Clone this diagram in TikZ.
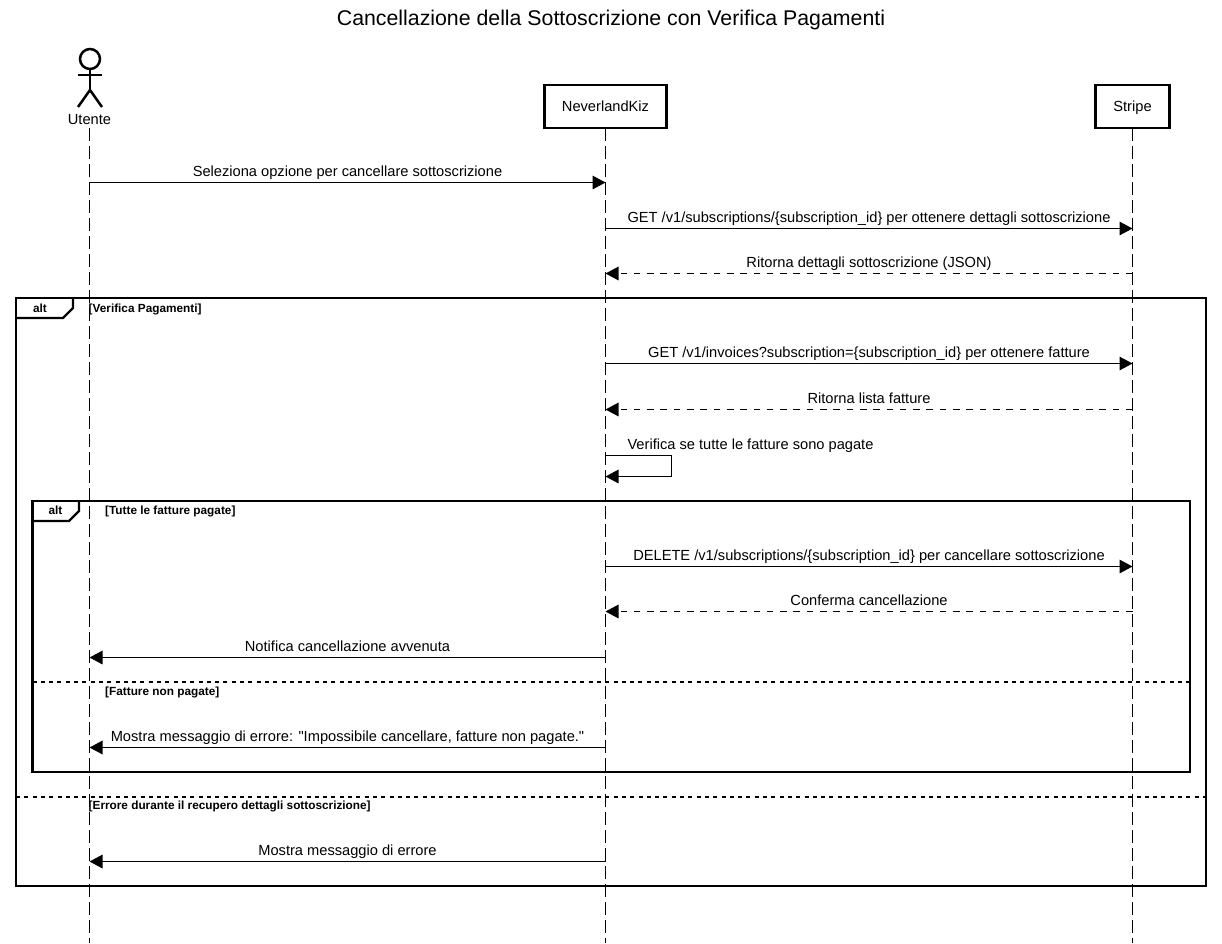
\documentclass[tikz,border=0pt]{standalone}
\usepackage{fontspec}
\setmainfont[Ligatures=TeXOff]{Liberation Sans}
\usetikzlibrary{arrows.meta,calc,positioning}
\tikzset{
  lifebox/.style={draw,line width=2.8pt,minimum width=122pt,minimum height=43pt,inner sep=0pt,outer sep=0pt,text height=10.5pt,text depth=0pt,font=\fontsize{14.65}{16}\selectfont},
  lifeline/.style={line width=1.7pt,dash pattern=on 13pt off 5pt},
  msg/.style={line width=1.5pt,-{Triangle[length=13pt,width=13.5pt]}},
  retmsg/.style={msg,dash pattern=on 6.6pt off 6.7pt},
  msgtext/.style={font=\fontsize{14.65}{16}\selectfont,anchor=base,inner sep=0pt,yshift=6pt},
  altframe/.style={line width=2.2pt},
  altline/.style={line width=2.2pt,dash pattern=on 4pt off 4.3pt},
  alttext/.style={font=\fontsize{11.8}{14}\selectfont\bfseries,inner sep=0pt,text height=8.5pt,text depth=0pt},
  guardtext/.style={alttext,anchor=west},
  actorline/.style={line width=2.5pt}
}
\begin{document}
\begin{tikzpicture}[x=1pt,y=-1pt]
\useasboundingbox (0,0) rectangle (1222,943);
\fill[white] (0,0) rectangle (1222,943);
\node[font=\fontsize{21.3}{24}\selectfont,inner sep=0pt,text height=15.3pt,text depth=0pt] (title) at (611,18) {Cancellazione della Sottoscrizione con Verifica Pagamenti};
% participants
\draw[actorline] (90,59) circle (10);
\draw[actorline] (78,75) -- (102,75);
\draw[actorline] (90,69) -- (90,90) coordinate(hip);
\draw[actorline] (78,107) -- (hip) -- (102,107);
\node[font=\fontsize{14.65}{16}\selectfont,inner sep=0pt,text height=10.5pt,text depth=0pt] (ut) at (89.5,119) {Utente};
\node[lifebox] (nk) at (605.5,106.5) {NeverlandKiz};
\node[lifebox,minimum width=74pt] (st) at (1132.5,106.5) {Stripe};
\coordinate (utend) at (89.5,943);
\draw[lifeline] (ut |- 0,128) -- (utend);
\draw[lifeline] (nk.south) -- (nk |- utend);
\draw[lifeline] (st.south) -- (st |- utend);
% messages before the frame
\draw[msg] (ut |- 0,182.5) -- node[msgtext] (m1) {Seleziona opzione per cancellare sottoscrizione} (nk |- 0,182.5);
\draw[msg] (nk |- 0,228.5) -- node[msgtext] (m2) {GET /v1/subscriptions/\{subscription\_id\} per ottenere dettagli sottoscrizione} (st |- 0,228.5);
\draw[retmsg] (st |- 0,273.5) -- node[msgtext] (m3) {Ritorna dettagli sottoscrizione (JSON)} (nk |- 0,273.5);
% outer frame
\draw[altframe] (16,298) rectangle (1206,886);
\draw[altframe] (16,318) -- (63,318) -- (73,308) -- (73,298);
\node[alttext] (alt1) at (40,308) {alt};
\node[guardtext] (g1) at (88.5,308) {[Verifica Pagamenti]};
\draw[msg] (nk |- 0,363.5) -- node[msgtext] (m4) {GET /v1/invoices?subscription=\{subscription\_id\} per ottenere fatture} (st |- 0,363.5);
\draw[retmsg] (st |- 0,409.5) -- node[msgtext] (m5) {Ritorna lista fatture} (nk |- 0,409.5);
\node[msgtext] (m6) at (750.5,455.5) {Verifica se tutte le fatture sono pagate};
\draw[msg] (nk |- 0,455.5) -- ++(66,0) -- ++(0,21) -- (nk |- 0,476.5);
% inner frame
\draw[altframe] (32.5,501) rectangle (1190,772);
\draw[altframe] (32.5,521) -- (69,521) -- (79,511) -- (79,501);
\node[alttext] (alt2) at (55.5,510) {alt};
\node[guardtext] (g2) at (105,510) {[Tutte le fatture pagate]};
\draw[msg] (nk |- 0,566.5) -- node[msgtext] (m7) {DELETE /v1/subscriptions/\{subscription\_id\} per cancellare sottoscrizione} (st |- 0,566.5);
\draw[retmsg] (st |- 0,611.5) -- node[msgtext] (m8) {Conferma cancellazione} (nk |- 0,611.5);
\draw[msg] (nk |- 0,657.5) -- node[msgtext] (m9) {Notifica cancellazione avvenuta} (ut |- 0,657.5);
\draw[altline] (32.5,682) -- (1190,682);
\node[guardtext] (g3) at (105,691) {[Fatture non pagate]};
\draw[msg] (nk |- 0,747.5) -- node[msgtext] (m10) {Mostra messaggio di errore: "Impossibile cancellare, fatture non pagate."} (ut |- 0,747.5);
% second branch of the outer frame
\draw[altline] (16,797) -- (1206,797);
\node[guardtext] (g4) at (88.5,805) {[Errore durante il recupero dettagli sottoscrizione]};
\draw[msg] (nk |- 0,861.5) -- node[msgtext] (m11) {Mostra messaggio di errore} (ut |- 0,861.5);
\end{tikzpicture}
\end{document}
